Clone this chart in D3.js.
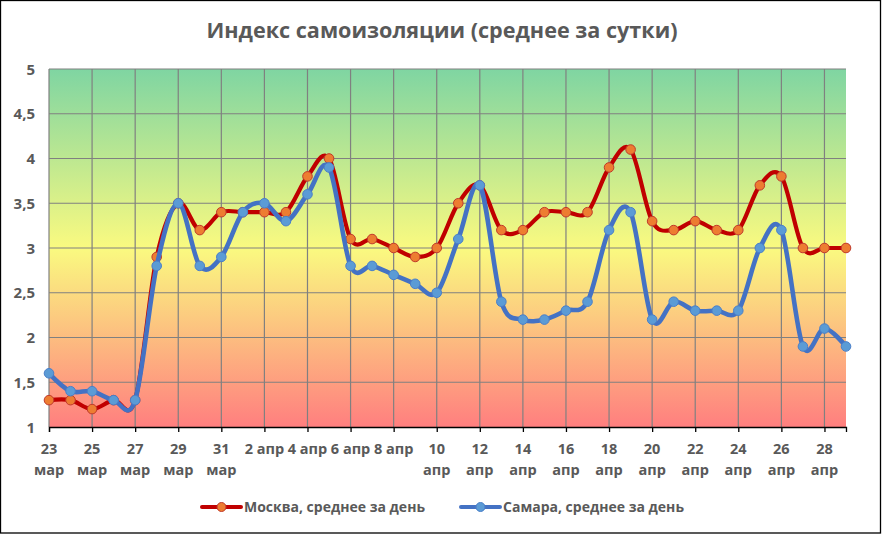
<!DOCTYPE html>
<html>
<head>
<meta charset="utf-8">
<script src="https://cdn.jsdelivr.net/npm/d3@7"></script>
<style>
  body { margin: 0; background: #fff; }
  text { font-family: "Open Sans", "Noto Sans", sans-serif; font-weight: bold; fill: #595959; }
</style>
</head>
<body>
<script>
var w = 882;
var h = 535;

// days 23 mar .. 29 apr
var days = [
  "23 мар", "24 мар", "25 мар", "26 мар", "27 мар", "28 мар", "29 мар", "30 мар", "31 мар",
  "1 апр", "2 апр", "3 апр", "4 апр", "5 апр", "6 апр", "7 апр", "8 апр", "9 апр", "10 апр",
  "11 апр", "12 апр", "13 апр", "14 апр", "15 апр", "16 апр", "17 апр", "18 апр", "19 апр",
  "20 апр", "21 апр", "22 апр", "23 апр", "24 апр", "25 апр", "26 апр", "27 апр", "28 апр", "29 апр"
];

var moscow = [
  1.3, 1.3, 1.2, 1.3, 1.3, 2.9, 3.5, 3.2, 3.4,
  3.4, 3.4, 3.4, 3.8, 4.0, 3.1, 3.1, 3.0, 2.9, 3.0,
  3.5, 3.7, 3.2, 3.2, 3.4, 3.4, 3.4, 3.9, 4.1,
  3.3, 3.2, 3.3, 3.2, 3.2, 3.7, 3.8, 3.0, 3.0, 3.0
];

var samara = [
  1.6, 1.4, 1.4, 1.3, 1.3, 2.8, 3.5, 2.8, 2.9,
  3.4, 3.5, 3.3, 3.6, 3.9, 2.8, 2.8, 2.7, 2.6, 2.5,
  3.1, 3.7, 2.4, 2.2, 2.2, 2.3, 2.4, 3.2, 3.4,
  2.2, 2.4, 2.3, 2.3, 2.3, 3.0, 3.2, 1.9, 2.1, 1.9
];

var xTickLabels = [
  ["23", "мар"], ["25", "мар"], ["27", "мар"], ["29", "мар"], ["31", "мар"],
  ["2 апр"], ["4 апр"], ["6 апр"], ["8 апр"],
  ["10", "апр"], ["12", "апр"], ["14", "апр"], ["16", "апр"], ["18", "апр"],
  ["20", "апр"], ["22", "апр"], ["24", "апр"], ["26", "апр"], ["28", "апр"]
];

var yTicks = [1, 1.5, 2, 2.5, 3, 3.5, 4, 4.5, 5];

var series = [
  { name: "Москва, среднее за день", values: moscow, line: "#c00000", fill: "#ed7d31", stroke: "#c0392b", width: 4.2 },
  { name: "Самара, среднее за день", values: samara, line: "#4472c4", fill: "#5b9bd5", stroke: "#4a7fc9", width: 4.6 }
];

var pLeft = 49, pRight = 846, pTop = 69, pBottom = 427;

var svg = d3.select("body").append("svg").attr("width", w).attr("height", h);

// chart border
svg.append("rect")
  .attr("x", 0.5).attr("y", 0.5)
  .attr("width", 880).attr("height", 532.5)
  .attr("fill", "#fff")
  .attr("stroke", "#000")
  .attr("stroke-width", 1.3);

var x = d3.scaleLinear().domain([0, days.length - 1]).range([pLeft, pRight]);
var y = d3.scaleLinear().domain([1, 5]).range([pBottom, pTop]);

// background gradient
var grad = svg.append("defs").append("linearGradient")
  .attr("id", "bg")
  .attr("x1", 0).attr("y1", 0).attr("x2", 0).attr("y2", 1);
grad.append("stop").attr("offset", "0%").attr("stop-color", "#7fd5a2");
grad.append("stop").attr("offset", "50%").attr("stop-color", "#fafa80");
grad.append("stop").attr("offset", "100%").attr("stop-color", "#ff7f7f");

svg.append("rect")
  .attr("x", pLeft).attr("y", pTop)
  .attr("width", pRight - pLeft).attr("height", pBottom - pTop)
  .attr("fill", "url(#bg)");

// grid
var xTickIdx = d3.range(0, days.length, 2);

svg.append("g")
  .selectAll("line")
  .data(yTicks.slice(1))
  .enter()
  .append("line")
  .attr("x1", pLeft).attr("x2", pRight)
  .attr("y1", (d) => y(d)).attr("y2", (d) => y(d))
  .attr("stroke", "#808080")
  .attr("stroke-width", 1.2);

svg.append("g")
  .selectAll("line")
  .data(xTickIdx)
  .enter()
  .append("line")
  .attr("x1", (d) => x(d)).attr("x2", (d) => x(d))
  .attr("y1", pTop).attr("y2", pBottom)
  .attr("stroke", "#808080")
  .attr("stroke-width", 1.2);

// x axis
var xAxis = d3.axisBottom(x)
  .tickValues(xTickIdx)
  .tickSize(5)
  .tickFormat("");

var gx = svg.append("g")
  .attr("transform", "translate(0," + pBottom + ")")
  .call(xAxis);
gx.select(".domain").attr("stroke", "#000").attr("stroke-width", 1.3);
gx.selectAll(".tick line").attr("stroke", "#000").attr("stroke-width", 1.3);

svg.append("g")
  .selectAll("text")
  .data(xTickIdx)
  .enter()
  .append("text")
  .attr("x", (d) => x(d))
  .attr("y", 454)
  .attr("text-anchor", "middle")
  .attr("font-size", "14.5px")
  .each(function (d, i) {
    var lines = xTickLabels[i];
    d3.select(this).selectAll("tspan")
      .data(lines)
      .enter()
      .append("tspan")
      .attr("x", x(d))
      .attr("dy", (t, j) => (j === 0 ? 0 : 21))
      .text((t) => t);
  });

// y labels
svg.append("g")
  .selectAll("text")
  .data(yTicks)
  .enter()
  .append("text")
  .attr("x", 35)
  .attr("y", (d) => y(d) + 5.5)
  .attr("text-anchor", "end")
  .attr("font-size", "15px")
  .text((d) => String(d).replace(".", ","));

// lines + markers (excel-like smoothing)
var line = d3.line()
  .x((d, i) => x(i))
  .y((d) => y(d))
  .curve(d3.curveCatmullRom.alpha(0));

series.forEach(function (s) {
  var g = svg.append("g");
  g.append("path")
    .datum(s.values)
    .attr("d", line)
    .attr("fill", "none")
    .attr("stroke", s.line)
    .attr("stroke-width", s.width)
    .attr("stroke-linejoin", "round")
    .attr("stroke-linecap", "round");
  g.selectAll("circle")
    .data(s.values)
    .enter()
    .append("circle")
    .attr("cx", (d, i) => x(i))
    .attr("cy", (d) => y(d))
    .attr("r", 4.8)
    .attr("fill", s.fill)
    .attr("stroke", s.stroke)
    .attr("stroke-width", 1);
});

// title
svg.append("text")
  .attr("x", 442)
  .attr("y", 38)
  .attr("text-anchor", "middle")
  .attr("font-size", "21.6px")
  .text("Индекс самоизоляции (среднее за сутки)");

// legend
var legendX = [202, 461];
series.forEach(function (s, i) {
  var lg = svg.append("g").attr("transform", "translate(" + legendX[i] + ",507)");
  lg.append("line")
    .attr("x1", 0).attr("x2", 39)
    .attr("stroke", s.line)
    .attr("stroke-width", 4)
    .attr("stroke-linecap", "round");
  lg.append("circle")
    .attr("cx", 19.5).attr("r", 4.5)
    .attr("fill", s.fill)
    .attr("stroke", s.stroke)
    .attr("stroke-width", 1);
  lg.append("text")
    .attr("x", 42)
    .attr("y", 5)
    .attr("font-size", "14px")
    .text(s.name);
});
</script>
</body>
</html>
